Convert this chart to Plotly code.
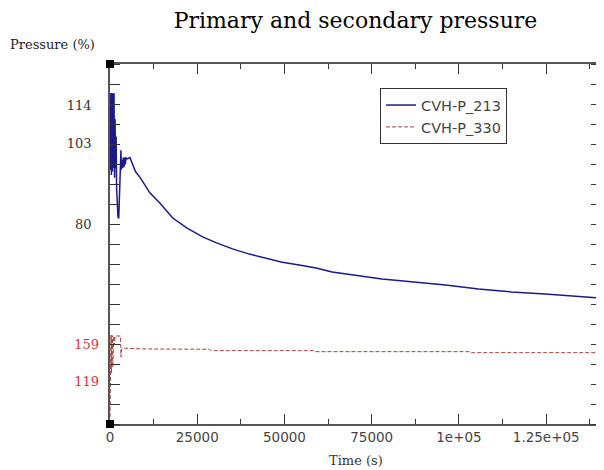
import plotly.graph_objects as go

# ---- data ----
t_213 = [0, 250, 400, 550, 700, 850, 1000, 1150, 1300, 1450, 1600, 1750, 1900, 2100, 2283,
         2500, 2700, 2854, 3000, 3139, 3250, 3425, 3600, 3800, 4000, 4200, 4400, 4566, 5000,
         5708, 6100, 6564, 7300, 8562, 11416, 14269, 17979, 21975, 26541, 30537, 35103,
         39954, 44806, 49372, 54224, 59075, 63642, 68493, 73345, 77911, 82763, 86473,
         96176, 105594, 115011, 124714, 134132, 140126]
p_213 = [95.5, 117.4, 94.0, 117.4, 95.0, 117.2, 96.0, 117.4, 93.2, 110.0, 96.0, 105.0, 90.0, 84.0, 82.0,
         81.6, 88.0, 91.1, 92.0, 101.1, 95.5, 98.3, 96.0, 99.0, 96.2, 99.0, 97.0, 98.9, 98.6,
         99.0, 98.0, 96.6, 95.0, 93.4, 88.9, 86.0, 81.7, 78.9, 76.3, 74.6, 72.9,
         71.4, 70.3, 69.1, 68.3, 67.4, 66.3, 65.7, 64.9, 64.3, 63.9, 63.4,
         62.6, 61.4, 60.6, 60.0, 59.4, 58.9]

t_330 = [0, 285, 400, 500, 600, 700, 800, 900, 1000, 1100, 1200, 1300, 1500, 3000,
         3139, 3300, 4500, 7000, 11000, 28500, 29000, 58500, 59000, 103000, 103500, 140700]
p_330 = [80.1, 168.7, 127.6, 168.5, 130.0, 167.6, 134.0, 167.0, 140.0, 167.6, 158.0, 167.6, 167.6, 167.6,
         144.9, 153.6, 154.4, 154.0, 153.6, 153.3, 151.8, 151.8, 150.7, 150.7, 149.6, 149.6]

x_tickvals = [0, 25000, 50000, 75000, 100000, 125000]
x_ticktext = ["0", "25000", "50000", "75000", "1e+05", "1.25e+05"]
y1_tickvals = [114, 103, 80]
y2_tickvals = [159, 119]

fig = go.Figure()
fig.add_trace(go.Scatter(x=t_213, y=p_213, mode="lines", name="CVH-P_213",
                         line=dict(color="#1a1a88", width=1.5), yaxis="y"))
fig.add_trace(go.Scatter(x=t_330, y=p_330, mode="lines", name="CVH-P_330",
                         line=dict(color="#a8403a", width=1, dash="4px,2px"), yaxis="y2"))
# empty trace so the right-hand tick axis is drawn
fig.add_trace(go.Scatter(x=[], y=[], yaxis="y3", showlegend=False, hoverinfo="skip"))

axis_col = "#555555"
y_range = [22.857, 125.714]
minor_y = dict(ticks="inside", ticklen=10, dtick=20 / 3.5, tick0=80,
               tickcolor="#333333", showgrid=False)
# the page body adds an 8px offset, so the figure is 8px smaller and margins compensate
fig.update_layout(
    width=596, height=462,
    margin=dict(l=102, r=1, t=56, b=46),
    paper_bgcolor="white", plot_bgcolor="white",
    showlegend=True,
    title=dict(text="Primary and secondary pressure", x=0.5, xref="paper",
               y=1 - 12 / 462, yanchor="middle",
               font=dict(family="DejaVu Serif", size=22, color="#000000")),
    legend=dict(x=0.55, y=0.933, xanchor="left", yanchor="top",
                bgcolor="white", bordercolor="#333333", borderwidth=1,
                font=dict(family="DejaVu Sans", size=14.5, color="#444444"),
                itemwidth=30),
    xaxis=dict(range=[0, 140700], showgrid=False, zeroline=False,
               showline=True, linecolor=axis_col, linewidth=1.5, mirror="ticks",
               tickvals=x_tickvals, ticktext=x_ticktext,
               ticks="inside", ticklen=10, tickcolor="#333333", tickwidth=1,
               minor=dict(ticks="inside", ticklen=5, dtick=12500, tick0=0,
                          tickcolor="#333333", showgrid=False),
               tickfont=dict(family="DejaVu Sans", size=13.5, color="#444444")),
    yaxis=dict(range=y_range, showgrid=False, zeroline=False,
               showline=True, linecolor=axis_col, linewidth=1.5, mirror="ticks",
               tickvals=y1_tickvals, ticks="", ticklabelstandoff=14,
               minor=minor_y,
               tickfont=dict(family="DejaVu Serif", size=13, color="#333333")),
    yaxis2=dict(range=[72.5, 461.7], overlaying="y", side="left", anchor="x",
                showgrid=False, zeroline=False, showline=False,
                tickvals=y2_tickvals, ticks="", ticklabelstandoff=10,
                tickfont=dict(family="DejaVu Serif", size=13, color="#d0363c")),
    yaxis3=dict(range=y_range, overlaying="y", side="right", anchor="x",
                showgrid=False, zeroline=False, showline=True, linecolor=axis_col,
                linewidth=1.5, showticklabels=False, ticks="",
                tickvals=y1_tickvals, minor=minor_y),
)

# corner squares
sq_w = 8 / 493
sq_h = 8 / 360
for cx, cy in [(0, 0), (1, 0), (0, 1), (1, 1)]:
    fig.add_shape(type="rect", xref="paper", yref="paper",
                  x0=cx - sq_w / 2, x1=cx + sq_w / 2, y0=cy - sq_h / 2, y1=cy + sq_h / 2,
                  fillcolor="black", line=dict(width=0), layer="above")

fig.add_annotation(text="Pressure (%)", xref="paper", yref="paper",
                   x=(8 - 110) / 493, y=(424 - 45) / 360, xanchor="left", yanchor="middle",
                   showarrow=False, font=dict(family="DejaVu Serif", size=13, color="#222222"))
fig.add_annotation(text="Time (s)", xref="paper", yref="paper",
                   x=0.5, y=(424 - 460) / 360, xanchor="center", yanchor="middle",
                   showarrow=False, font=dict(family="DejaVu Serif", size=13, color="#333333"))

fig.write_html("out.html")
